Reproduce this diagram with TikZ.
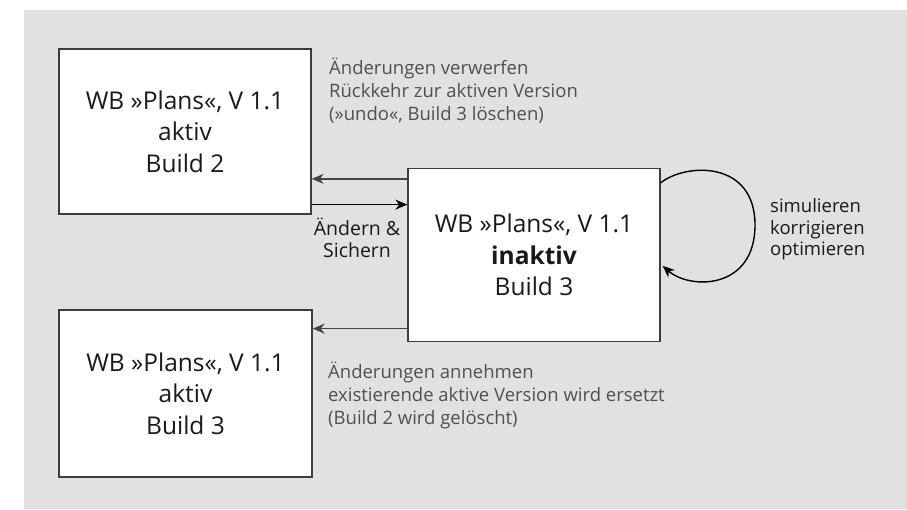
\documentclass[tikz,border=0pt]{standalone}
\usepackage{fontspec}
\setmainfont{Open Sans}
\usetikzlibrary{arrows.meta}
\definecolor{bg}{HTML}{E1E1E1}
\definecolor{boxline}{HTML}{3C3C3C}
\definecolor{note}{HTML}{505050}
\definecolor{backline}{HTML}{444444}
\tikzset{
  wbbox/.style={draw=boxline, line width=1.3pt, fill=white, inner sep=0pt, align=center,
    font=\fontsize{24.5}{31.5}\selectfont, text=black!90},
  notetext/.style={inner sep=0pt, align=left, font=\fontsize{18.5}{23}\selectfont, text=note},
  blacktext/.style={inner sep=0pt, font=\fontsize{19.5}{21.5}\selectfont, text=black!90},
  fwd/.style={line width=1.6pt, draw=black, -{Stealth[length=12pt,width=10pt]}},
  back/.style={line width=1.6pt, draw=backline, -{Stealth[length=12pt,width=10pt]}},
}
\begin{document}
\begin{tikzpicture}[x=1pt,y=-1pt]
\useasboundingbox (0,0) rectangle (907,509);
\fill[bg] (24,10) rectangle (907,509);

\node[wbbox, minimum width=252pt, minimum height=165pt] (b1) at (185,131.5)
  {WB »Plans«, V 1.1\\aktiv\\Build 2};
\node[wbbox, minimum width=252pt, minimum height=173pt] (mid) at (534,255)
  {WB »Plans«, V 1.1\\\textbf{inaktiv}\\Build 3};
\node[wbbox, minimum width=253pt, minimum height=167pt] (b3) at (185.5,393.5)
  {WB »Plans«, V 1.1\\aktiv\\Build 3};

% arrows
\draw[back] ([yshift=-11pt]mid.north west) -- ([yshift=-11pt]mid.north west -| b1.east);
\draw[fwd] ([yshift=10pt]b1.south east) -- ([yshift=10pt]b1.south east -| mid.west);
\draw[back] ([yshift=13.5pt]mid.south west) -- ([yshift=13.5pt]mid.south west -| b3.east);

% loop
\coordinate (lr) at (755,225);
\draw[fwd, line width=1.4pt] ([yshift=-15pt]mid.north east)
  .. controls +(25,-20) and (755,160) .. (lr)
  .. controls (755,290) and (690,290) .. ([yshift=-98pt,xshift=2pt]mid.north east);

% labels
\node[notetext, anchor=north west] (n1) at (329,58)
  {Änderungen verwerfen\\Rückkehr zur aktiven Version\\(»undo«, Build 3 löschen)};
\node[blacktext, align=center, anchor=north] (n2) at (357,218)
  {Ändern \&\\Sichern};
\node[notetext, text=black!90, anchor=north west, font=\fontsize{18.5}{21.5}\selectfont, text width=110pt, align=left] (n3) at (770,198.5)
  {simulieren\\korrigieren\\optimieren};
\node[notetext, anchor=north west] (n4) at (328,362)
  {Änderungen annehmen\\existierende aktive Version wird ersetzt\\(Build 2 wird gelöscht)};
\end{tikzpicture}
\end{document}
